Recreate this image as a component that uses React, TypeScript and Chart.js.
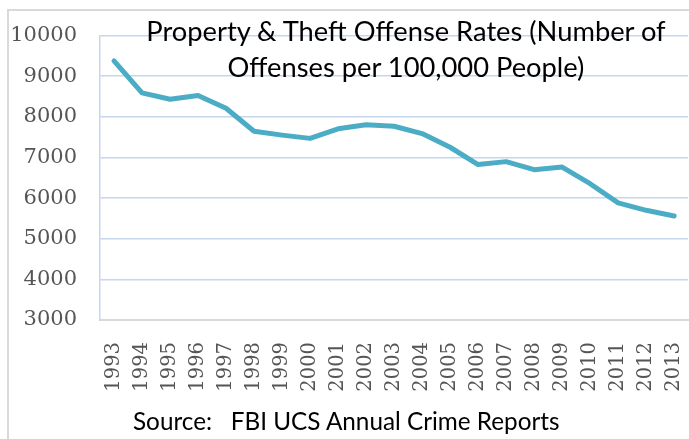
import React, { useEffect, useRef } from "react";
import { Chart, registerables } from "chart.js";

Chart.register(...registerables);

const years = ["1993","1994","1995","1996","1997","1998","1999","2000","2001","2002","2003","2004","2005","2006","2007","2008","2009","2010","2011","2012","2013"];
const offenseRates = [9378, 8591, 8433, 8527, 8213, 7645, 7550, 7470, 7706, 7807, 7769, 7588, 7252, 6827, 6898, 6700, 6764, 6355, 5882, 5700, 5560];
const yMin = 3000;
const yMax = 10000;
const yStep = 1000;
const titleLines = ["Property & Theft Offense Rates (Number of", "Offenses per 100,000 People)"];
const sourceText = "Source:   FBI UCS Annual Crime Reports";

export default function App() {
  const ref = useRef<HTMLCanvasElement | null>(null);
  useEffect(() => {
    if (!ref.current) return;
    const chart = new Chart(ref.current, {
      type: "line",
      data: {
        labels: years,
        datasets: [
          {
            data: offenseRates,
            borderColor: "#4bacc6",
            borderWidth: 5,
            pointRadius: 0,
            tension: 0,
            borderCapStyle: "round",
            borderJoinStyle: "round",
            fill: false,
          },
        ],
      },
      options: {
        responsive: false,
        animation: false,
        devicePixelRatio: 1,
        layout: { padding: { top: 23, right: 19, bottom: 0, left: 0 } },
        plugins: { legend: { display: false }, tooltip: { enabled: false }, title: { display: false } },
        scales: {
          x: {
            type: "category",
            offset: true,
            grid: { display: false, drawTicks: false },
            border: { display: true, color: "#d9d9d9", width: 2 },
            ticks: {
              autoSkip: false,
              minRotation: 90,
              maxRotation: 90,
              padding: 22,
              color: "#555555",
              font: { family: "'DejaVu Serif', serif", size: 19.5 },
            },
            afterFit: (s: any) => { s.height = 119; },
          },
          y: {
            min: yMin,
            max: yMax,
            grid: {
              drawTicks: false,
              color: (ctx: any) => (ctx.tick && ctx.tick.value === yMin ? "#d9d9d9" : "#c6d6ec"),
              lineWidth: (ctx: any) => (ctx.tick && ctx.tick.value === yMin ? 2 : 1.5),
            },
            border: { display: true, color: "#c6d6ec", width: 1.5 },
            ticks: {
              stepSize: yStep,
              padding: 23,
              color: "#555555",
              font: { family: "'DejaVu Serif', serif", size: 21 },
              callback: (v: any) => String(v),
            },
            afterFit: (s: any) => { s.width = 100; },
          },
        },
      },
    });
    return () => chart.destroy();
  }, []);

  return (
    <div style={{ position: "fixed", left: 0, top: 0, width: 689, height: 439, overflow: "hidden", background: "#fff" }}>
      <div style={{ position: "absolute", left: 7, top: 9, width: 900, height: 900, border: "2px solid #d9d9d9", boxSizing: "border-box" }} />
      <canvas ref={ref} width={720} height={439} style={{ position: "absolute", left: 0, top: 0, width: 720, height: 439 }} />
      <div
        style={{
          position: "absolute",
          left: 106,
          top: 13,
          width: 600,
          textAlign: "center",
          fontFamily: "Lato, 'Open Sans', sans-serif",
          fontSize: 27.3,
          lineHeight: "36px",
          color: "#000",
          whiteSpace: "pre",
        }}
      >
        {titleLines.map((l, i) => (
          <div key={i}>{l}</div>
        ))}
      </div>
      <div
        style={{
          position: "absolute",
          left: 133,
          top: 406,
          fontFamily: "Lato, 'Open Sans', sans-serif",
          fontSize: 24.3,
          lineHeight: "30px",
          color: "#000",
          whiteSpace: "pre",
        }}
      >
        {sourceText}
      </div>
    </div>
  );
}
